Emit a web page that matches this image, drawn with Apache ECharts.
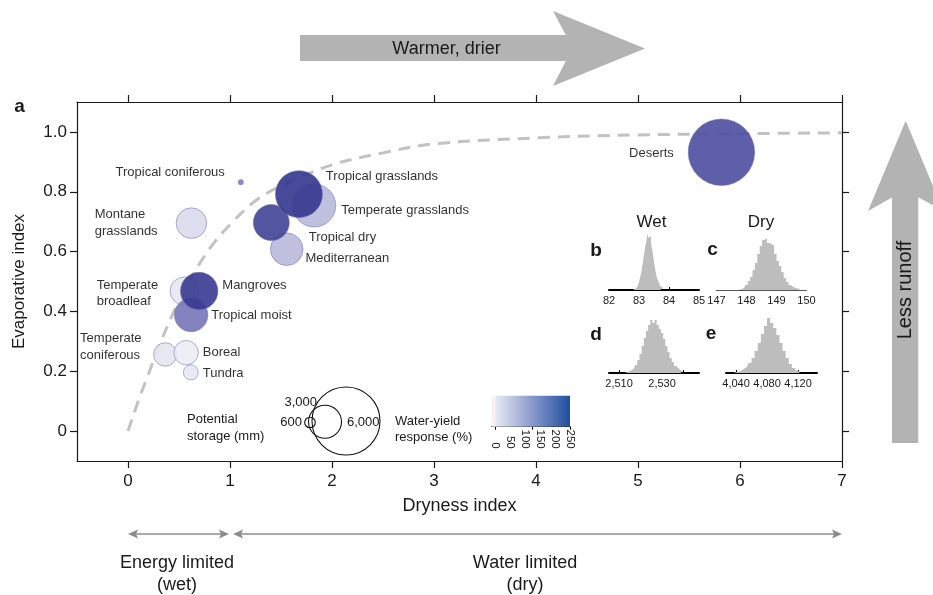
<!DOCTYPE html>
<html>
<head>
<meta charset="utf-8">
<script src="https://cdn.jsdelivr.net/npm/echarts@6/dist/echarts.min.js"></script>
<style>
html, body { margin: 0; padding: 0; background: #fff; }
#main { width: 933px; height: 595px; }
</style>
</head>
<body>
<div id="main"></div>
<script>
// biomes, drawn light first so the dark ones sit on top
var biomes = ['Temperate coniferous', 'Boreal', 'Tundra', 'Temperate broadleaf', 'Montane grasslands',
  'Mediterranean', 'Temperate grasslands', 'Tropical coniferous', 'Tropical moist', 'Deserts',
  'Tropical dry', 'Mangroves', 'Tropical grasslands'];
var dryness = [0.365, 0.570, 0.616, 0.551, 0.622, 1.556, 1.826, 1.106, 0.619, 5.818, 1.405, 0.698, 1.676];
var evapIndex = [0.256, 0.262, 0.196, 0.468, 0.695, 0.608, 0.754, 0.832, 0.388, 0.932, 0.697, 0.468, 0.792];
var storageMm = [1665, 1754, 954, 2100, 2327, 2518, 3560, 250, 2597, 6130, 2850, 2990, 3980];
var yieldResponse = [22, 12, 18, 20, 35, 80, 80, 145, 160, 215, 232, 245, 250];

// dashed curve
var curveX = [0, 0.1, 0.2, 0.3, 0.45, 0.6, 0.8, 1.0, 1.25, 1.5, 2, 2.5, 3, 4, 5, 6, 7];
var curveY = [0, 0.10, 0.19, 0.28, 0.40, 0.50, 0.61, 0.69, 0.77, 0.82, 0.89, 0.93, 0.96, 0.98, 0.99, 0.994, 0.997];

var xTicks = [0, 1, 2, 3, 4, 5, 6, 7];
var yTicks = [0, 0.2, 0.4, 0.6, 0.8, 1.0];

// inset histograms (bin centre, height)
var wetBins = [82.82, 82.86, 82.90, 82.94, 82.98, 83.02, 83.06, 83.10, 83.14, 83.18, 83.22, 83.26, 83.30, 83.34,
  83.38, 83.42, 83.46, 83.50, 83.54, 83.58, 83.62, 83.66, 83.70, 83.74, 83.78, 83.82, 83.86];
var wetCounts = [0.5, 1, 1.5, 2, 4, 8, 13, 18, 26, 34, 42, 48, 56, 52, 54, 47, 40, 33, 24, 17, 12, 9, 6, 3.5, 2, 1, 0.5];
var dryBins = [147.76, 147.84, 147.92, 148.00, 148.08, 148.16, 148.24, 148.32, 148.40, 148.48, 148.56, 148.64,
  148.72, 148.80, 148.88, 148.96, 149.04, 149.12, 149.20, 149.28, 149.36, 149.44, 149.52, 149.60, 149.68, 149.76, 149.84];
var dryCounts = [0.5, 1, 2, 5, 9, 13, 20, 27, 36, 44, 50, 52, 47, 46, 44, 36, 29, 24, 18, 12, 8, 5, 3, 2, 1.5, 1, 0.5];
var dBins = [2513, 2514, 2515, 2516, 2517, 2518, 2519, 2520, 2521, 2522, 2523, 2524, 2525, 2526, 2527, 2528,
  2529, 2530, 2531, 2532, 2533, 2534, 2535, 2536, 2537, 2538, 2539, 2540];
var dCounts = [0.5, 1, 2, 3, 5, 8, 13, 19, 27, 35, 42, 48, 53, 50, 53, 48, 44, 40, 34, 27, 21, 15, 11, 7, 5, 3, 1.5, 0.5];
var eBins = [4038, 4042, 4046, 4050, 4054, 4058, 4062, 4066, 4070, 4074, 4078, 4082, 4086, 4090, 4094, 4098,
  4102, 4106, 4110, 4114, 4118, 4122];
var eCounts = [0.5, 1, 2, 4, 6, 10, 15, 22, 30, 39, 47, 55, 50, 45, 38, 30, 22, 15, 9, 5, 2.5, 1];

var respTicks = [0, 50, 100, 150, 200, 250];
var storageLegend = [600, 3000, 6000];

var FONT = 'Liberation Sans, Arial, Helvetica, sans-serif';
var INK = '#1a1a1a';

function bubbleSize(s) {
  return 0.062 * Math.pow(s, 0.8);
}
function pairs(xs, ys) {
  return xs.map(function (x, i) { return [x, ys[i]]; });
}
function commas(v) {
  return Number(v).toLocaleString('en-US');
}

// where each label sits next to its bubble
var labelLayout = {
  'Tropical coniferous': { position: 'left', distance: 13, offset: [0, -10] },
  'Tropical grasslands': { position: 'right', distance: 3, offset: [0, -18] },
  'Temperate grasslands': { position: 'right', distance: 5, offset: [0, 5] },
  'Montane grasslands': { text: 'Montane\ngrasslands', position: [-81, 15.5], align: 'left', verticalAlign: 'middle' },
  'Tropical dry': { position: 'right', distance: 19, offset: [0, 15] },
  'Mediterranean': { position: 'right', distance: 2, offset: [0, 9] },
  'Mangroves': { position: 'right', distance: 4, offset: [0, -6] },
  'Temperate broadleaf': { text: 'Temperate\nbroadleaf', position: [-73, 17], align: 'left', verticalAlign: 'middle' },
  'Tropical moist': { position: 'right', distance: 3, offset: [0, 0] },
  'Temperate coniferous': { text: 'Temperate\nconiferous', position: [-73, 4.5], align: 'left', verticalAlign: 'middle' },
  'Boreal': { position: 'right', distance: 4, offset: [0, 0] },
  'Tundra': { position: 'right', distance: 4, offset: [0, 1] },
  'Deserts': { position: 'left', distance: 14, offset: [0, 1] }
};

var bubbleData = biomes.map(function (name, i) {
  var lay = labelLayout[name];
  var lbl = { show: true, formatter: lay.text || name };
  ['position', 'distance', 'offset', 'align', 'verticalAlign'].forEach(function (k) {
    if (lay[k] !== undefined) lbl[k] = lay[k];
  });
  return { name: name, value: [dryness[i], evapIndex[i], storageMm[i], yieldResponse[i]], label: lbl };
});

function insetX(grid, min, max, labels, ticks, lineW, lineColor) {
  return {
    gridIndex: grid, type: 'value', min: min, max: max,
    axisLine: { show: true, onZero: false, lineStyle: { color: lineColor, width: lineW } },
    axisTick: { show: true, inside: true, length: 3, customValues: ticks, lineStyle: { color: '#000' } },
    axisLabel: { customValues: labels, formatter: commas, fontSize: 11, margin: 5, color: INK, fontFamily: FONT },
    splitLine: { show: false }
  };
}
function insetY(grid) {
  return { gridIndex: grid, type: 'value', min: 0, max: 58, show: false };
}
function histSeries(axis, xs, ys) {
  return {
    type: 'line', xAxisIndex: axis, yAxisIndex: axis, step: 'middle', symbol: 'none', silent: true,
    lineStyle: { width: 0 }, areaStyle: { color: '#bdbdbd', opacity: 1 }, data: pairs(xs, ys)
  };
}

var frame = { color: INK, width: 1.2 };

var option = {
  animation: false,
  backgroundColor: '#fff',
  textStyle: { fontFamily: FONT },
  grid: [
    { left: 77, right: 91, top: 102, bottom: 134 },
    { left: 609, width: 90, top: 232, height: 58 },
    { left: 716.5, width: 90, top: 232, height: 58 },
    { left: 609, width: 90, top: 315, height: 58 },
    { left: 726, width: 91, top: 315, height: 58 },
    { left: 491.7, width: 78.3, top: 395.7, height: 31 }
  ],
  xAxis: [
    {
      gridIndex: 0, type: 'value', min: -0.5, max: 7, position: 'bottom',
      name: 'Dryness index', nameLocation: 'middle', nameGap: 36,
      nameTextStyle: { fontSize: 18, color: INK, fontFamily: FONT },
      axisLine: { show: true, onZero: false, lineStyle: frame },
      axisTick: { show: true, length: 7, customValues: xTicks, lineStyle: frame },
      axisLabel: { customValues: xTicks, fontSize: 17, color: INK, margin: 12, fontFamily: FONT },
      splitLine: { show: false }
    },
    {
      gridIndex: 0, type: 'value', min: -0.5, max: 7, position: 'top',
      axisLine: { show: true, onZero: false, lineStyle: frame },
      axisTick: { show: true, length: 7, customValues: xTicks, lineStyle: frame },
      axisLabel: { show: false }, splitLine: { show: false }
    },
    insetX(1, 82, 85, [82, 83, 84, 85], [83, 84], 2, '#000'),
    insetX(2, 147, 150, [147, 148, 149, 150], [148, 149], 1, '#555'),
    insetX(3, 2505.3, 2547.2, [2510, 2530], [2510, 2520, 2530, 2540], 2, '#000'),
    insetX(4, 4027, 4144.5, [4040, 4080, 4120], [4040, 4080, 4120], 2, '#000'),
    {
      gridIndex: 5, type: 'value', min: -11, max: 250,
      axisLine: { show: true, onZero: false, lineStyle: { color: '#000', width: 1 } },
      axisTick: { show: true, length: 3, customValues: [0, 125, 250], lineStyle: { color: '#000' } },
      axisLabel: { customValues: respTicks, rotate: -90, align: 'right', verticalAlign: 'middle',
        margin: 22, fontSize: 11.5, color: INK, fontFamily: FONT },
      splitLine: { show: false }
    }
  ],
  yAxis: [
    {
      gridIndex: 0, type: 'value', min: -0.1, max: 1.1, position: 'left',
      name: 'Evaporative index', nameLocation: 'middle', nameGap: 49,
      nameTextStyle: { fontSize: 17, color: INK, fontFamily: FONT },
      axisLine: { show: true, onZero: false, lineStyle: frame },
      axisTick: { show: true, length: 7, customValues: yTicks, lineStyle: frame },
      axisLabel: {
        customValues: yTicks, fontSize: 17, color: INK, margin: 10, fontFamily: FONT,
        formatter: function (v) { return v === 0 ? '0' : v.toFixed(1); }
      },
      splitLine: { show: false }
    },
    {
      gridIndex: 0, type: 'value', min: -0.1, max: 1.1, position: 'right',
      axisLine: { show: true, onZero: false, lineStyle: frame },
      axisTick: { show: true, length: 7, customValues: yTicks, lineStyle: frame },
      axisLabel: { show: false }, splitLine: { show: false }
    },
    insetY(1), insetY(2), insetY(3), insetY(4),
    { gridIndex: 5, type: 'value', min: 0, max: 1, show: false }
  ],
  visualMap: [{
    show: false, type: 'continuous', seriesIndex: 1, dimension: 3, min: 0, max: 250,
    inRange: { color: ['#f6f6fa', '#b4b6d8', '#6e70b5', '#33368e'] }
  }],
  series: [
    {
      type: 'line', xAxisIndex: 0, yAxisIndex: 0, smooth: 0.35, symbol: 'none', silent: true, z: 1,
      lineStyle: { color: '#c2c2c2', width: 3, type: [12, 8] },
      data: pairs(curveX, curveY)
    },
    {
      type: 'scatter', xAxisIndex: 0, yAxisIndex: 0, z: 3, silent: true,
      symbolSize: function (v) { return bubbleSize(v[2]); },
      itemStyle: { opacity: 0.9, borderColor: 'rgba(110,112,175,0.75)', borderWidth: 0.8 },
      label: { color: INK, fontSize: 13, lineHeight: 16.5, fontFamily: FONT },
      data: bubbleData
    },
    histSeries(2, wetBins, wetCounts),
    histSeries(3, dryBins, dryCounts),
    histSeries(4, dBins, dCounts),
    histSeries(5, eBins, eCounts)
  ]
};

var chart = echarts.init(document.getElementById('main'));
chart.setOption(option);

// annotations ---------------------------------------------------------------
var ARROW_GREY = '#b3b3b3';
function txt(x, y, s, size, extra) {
  var style = { text: s, x: 0, y: 0, fill: INK, font: size + 'px ' + FONT, align: 'center', verticalAlign: 'middle' };
  for (var k in extra || {}) style[k] = extra[k];
  return { type: 'text', x: x, y: y, style: style, z: 50 };
}
function bold(x, y, s) {
  return txt(x, y, s, 19, { font: 'bold 19px ' + FONT });
}
function doubleArrow(x0, x1, y) {
  var c = '#8c8c8c', h = 10, w = 4.5;
  return [
    { type: 'line', shape: { x1: x0 + 4, y1: y, x2: x1 - 4, y2: y }, style: { stroke: c, lineWidth: 1.5 } },
    { type: 'polygon', shape: { points: [[x0, y], [x0 + h, y - w], [x0 + h - 2, y], [x0 + h, y + w]] }, style: { fill: c } },
    { type: 'polygon', shape: { points: [[x1, y], [x1 - h, y - w], [x1 - h + 2, y], [x1 - h, y + w]] }, style: { fill: c } }
  ];
}

var px = function (v) { return chart.convertToPixel({ xAxisIndex: 0 }, v); };
var g = [];

// warmer, drier arrow
g.push({ type: 'polygon', shape: { points: [[300, 35], [565.8, 35], [553, 11], [645, 48.5], [553, 86], [565.8, 61], [300, 61]] },
  style: { fill: ARROW_GREY } });
g.push(txt(446.5, 49, 'Warmer, drier', 18));
// less runoff arrow
g.push({ type: 'polygon', shape: { points: [[892, 443], [892, 197.6], [868, 211], [905.7, 120.7], [943.4, 211], [918.3, 197.2], [918.3, 443]] },
  style: { fill: ARROW_GREY } });
g.push({ type: 'text', x: 905.5, y: 290, rotation: Math.PI / 2, z: 50,
  style: { text: 'Less runoff', fill: INK, font: '20px ' + FONT, align: 'center', verticalAlign: 'middle' } });

// panel letters and inset titles
g.push(bold(19.5, 107, 'a'));
g.push(bold(596, 251, 'b'));
g.push(bold(712.5, 250, 'c'));
g.push(bold(596, 335, 'd'));
g.push(bold(711, 334, 'e'));
g.push(txt(651.5, 222, 'Wet', 17));
g.push(txt(761, 222, 'Dry', 17));

// storage legend
var legendCentres = [[310, 422.5], [325, 421.7], [346, 421]];
var legendRadii = [5.3, 16.5, 34];
storageLegend.forEach(function (s, i) {
  g.push({ type: 'circle', shape: { cx: legendCentres[i][0], cy: legendCentres[i][1], r: legendRadii[i] },
    style: { fill: 'none', stroke: '#111', lineWidth: 1.1 }, z: 40 });
});
g.push(txt(187, 427.5, 'Potential\nstorage (mm)', 13, { align: 'left', lineHeight: 17 }));
g.push(txt(317, 402.5, commas(storageLegend[1]), 13, { align: 'right' }));
g.push(txt(302, 422, commas(storageLegend[0]), 13, { align: 'right' }));
g.push(txt(347, 422, commas(storageLegend[2]), 13, { align: 'left' }));

// colour bar
g.push({ type: 'rect', shape: { x: 491.7, y: 395.7, width: 78.3, height: 31 }, z: 5,
  style: { fill: new echarts.graphic.LinearGradient(0, 0, 1, 0, [
    { offset: 0, color: '#fcf2ee' }, { offset: 0.042, color: '#f6f1f3' }, { offset: 0.06, color: '#e4e7f3' },
    { offset: 0.5, color: '#8d9ccd' }, { offset: 1, color: '#1f4e9e' }]) } });
g.push(txt(395, 429, 'Water-yield\nresponse (%)', 13, { align: 'left', lineHeight: 16 }));

// energy / water limited arrows under the axis
g = g.concat(doubleArrow(px(0), px(0.99), 534));
g = g.concat(doubleArrow(px(1.03), px(7), 534));
g.push(txt(177, 574, 'Energy limited\n(wet)', 18, { lineHeight: 22 }));
g.push(txt(525, 574, 'Water limited\n(dry)', 18, { lineHeight: 22 }));

chart.setOption({ graphic: g });
</script>
</body>
</html>
